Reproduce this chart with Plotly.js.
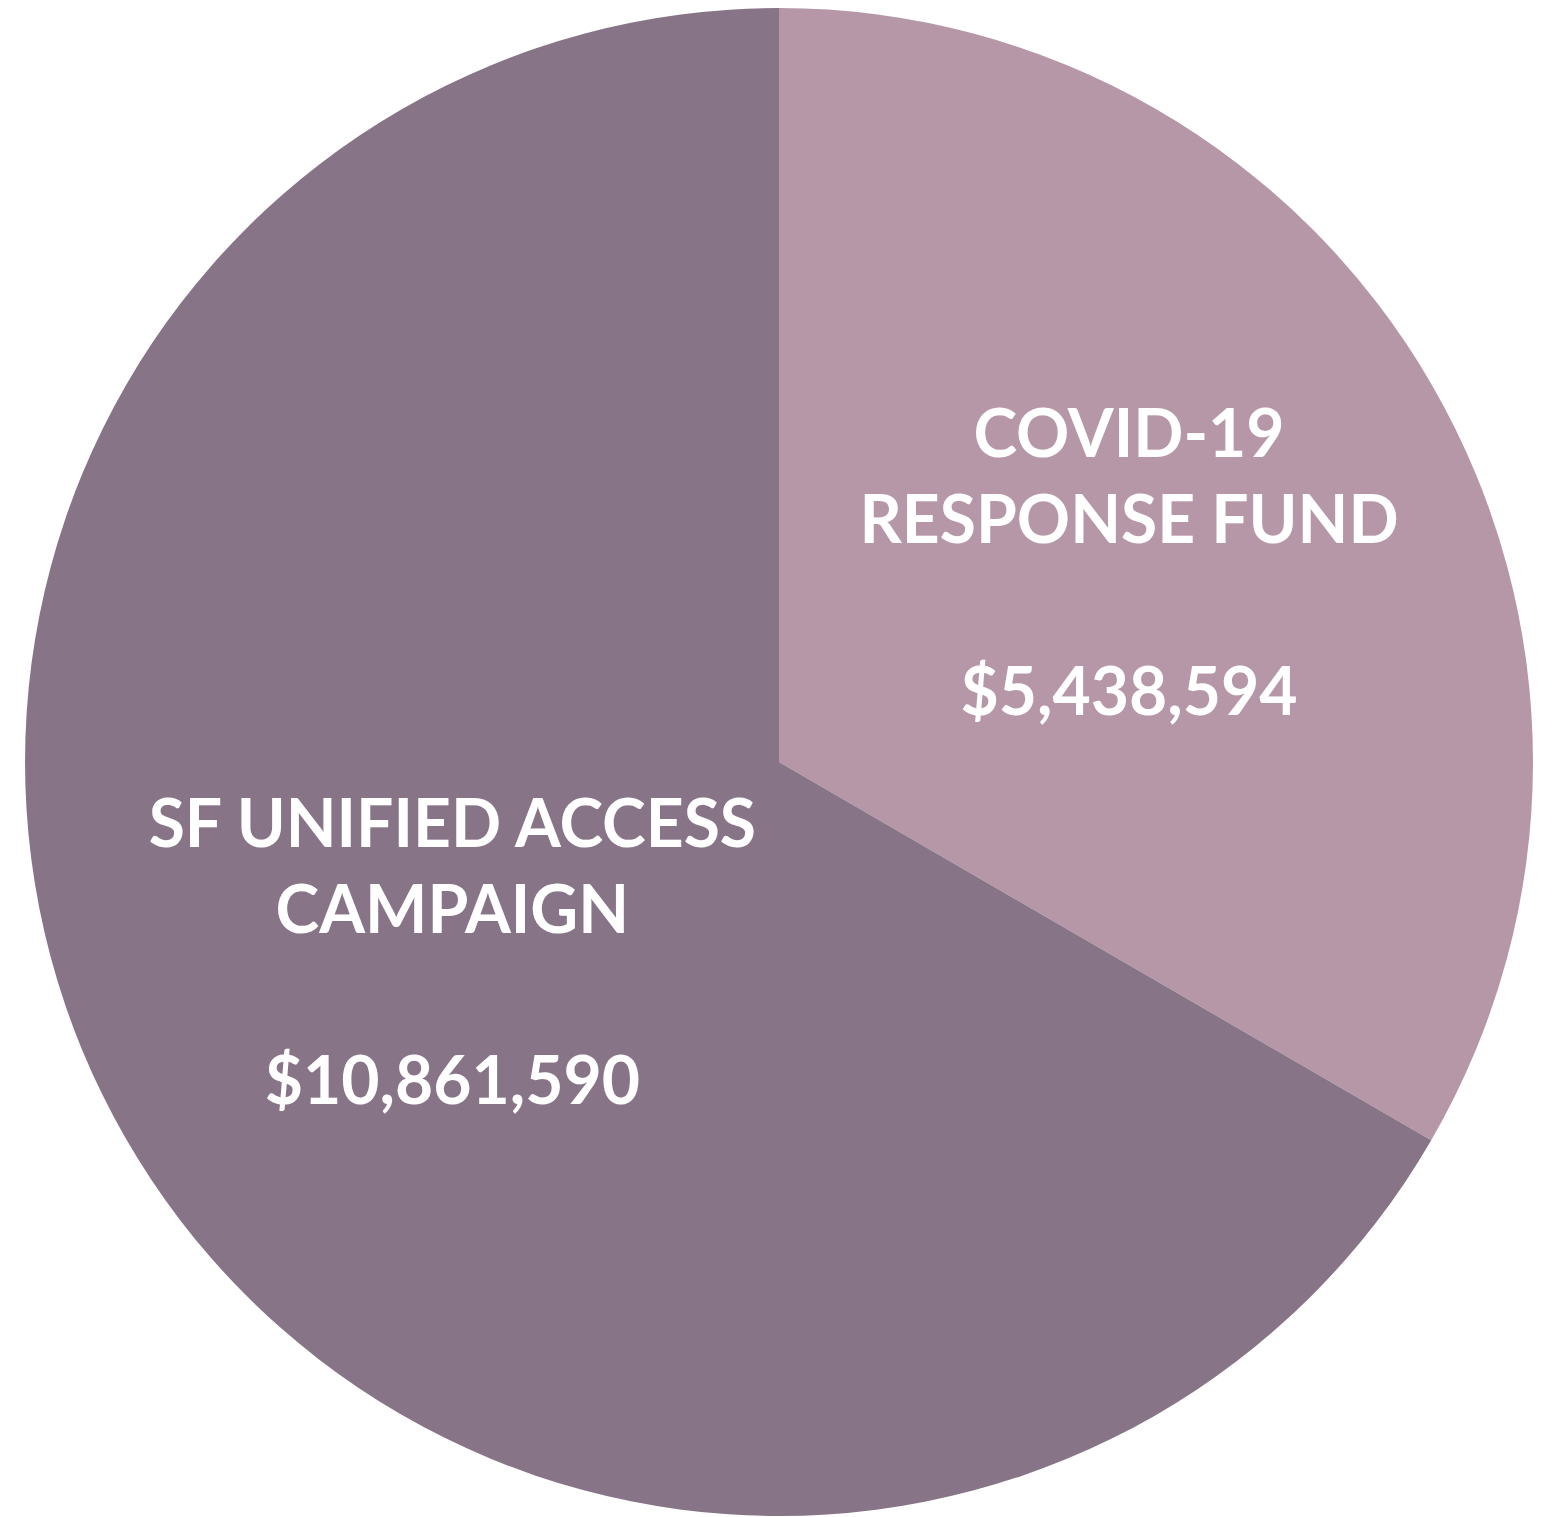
<!DOCTYPE html>
<html>
<head>
<meta charset="utf-8">
<script src="https://cdn.plot.ly/plotly-3.0.1.min.js"></script>
<style>
html,body{margin:0;padding:0;background:#fff;}
#chart{width:1557px;height:1517px;}
</style>
</head>
<body>
<div id="chart"></div>
<script>
const categories = ["COVID-19<br>RESPONSE FUND", "SF UNIFIED ACCESS<br>CAMPAIGN"];
const amounts = [5438594, 10861590];
const amountLabels = ["$5,438,594", "$10,861,590"];
const sliceColors = ["#B597A8", "#877587"];

const trace = {
  type: "pie",
  labels: categories,
  values: amounts,
  text: amountLabels,
  sort: false,
  direction: "clockwise",
  rotation: 0,
  marker: {colors: sliceColors, line: {width: 0}},
  textinfo: "text",
  texttemplate: "%{label}<br><br>%{text}",
  textposition: "inside",
  insidetextorientation: "horizontal",
  insidetextfont: {family: "Lato, 'Open Sans', sans-serif", size: 66, color: "#ffffff", weight: "bold"},
  hoverinfo: "skip",
  domain: {x: [0.01606, 0.98459], y: [0.00066, 0.9947]},
  showlegend: false
};

const layout = {
  width: 1557,
  height: 1517,
  margin: {l: 0, r: 0, t: 0, b: 0},
  paper_bgcolor: "#ffffff",
  showlegend: false
};

Plotly.newPlot("chart", [trace], layout, {displayModeBar: false, staticPlot: true});
</script>
</body>
</html>
